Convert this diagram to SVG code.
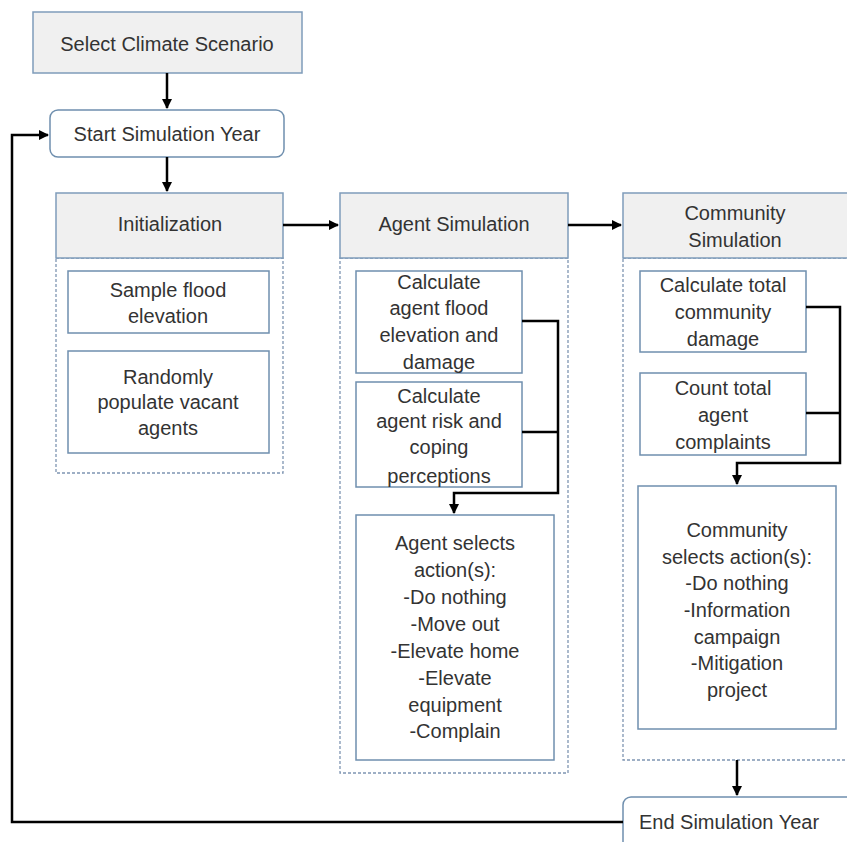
<svg xmlns="http://www.w3.org/2000/svg" width="847" height="842" viewBox="0 0 847 842">
<defs>
<marker id="ah" markerWidth="10" markerHeight="10" refX="9" refY="5" orient="auto" markerUnits="userSpaceOnUse">
<path d="M0,0 L10,5 L0,10 Z" fill="#000"/>
</marker>
</defs>
<style>
text{font-family:"Liberation Sans",Arial,sans-serif;font-size:20px;fill:#333;text-anchor:middle}
.hdr{fill:#f0f0f0;stroke:#7f9cba;stroke-width:1.5}
.box{fill:#fff;stroke:#6f8fae;stroke-width:1.5}
.cont{fill:none;stroke:#7f95b2;stroke-width:1.3;stroke-dasharray:3,2}
.c{fill:none;stroke:#000;stroke-width:2.5}
</style>
<rect width="847" height="842" fill="#fff"/>
<g id="select-climate"><rect class="hdr" x="33" y="12" width="269" height="61"/><text x="167" y="51">Select Climate Scenario</text></g>
<g id="start-year"><rect class="box" x="50" y="110" width="234" height="47" rx="8"/><text x="167" y="141">Start Simulation Year</text></g>
<g id="initialization">
<rect class="cont" x="56" y="258" width="227" height="215"/>
<rect class="hdr" x="56" y="193" width="227" height="65"/><text x="170" y="231">Initialization</text>
</g>
<g id="sample-flood"><rect class="box" x="68" y="271" width="201" height="62"/><text x="168" y="297">Sample flood</text><text x="168" y="323">elevation</text></g>
<g id="populate"><rect class="box" x="68" y="351" width="201" height="102"/><text x="168" y="384">Randomly</text><text x="168" y="409">populate vacant</text><text x="168" y="435">agents</text></g>
<g id="agent-sim">
<rect class="cont" x="340" y="258" width="228" height="515"/>
<rect class="hdr" x="340" y="193" width="228" height="65"/><text x="454" y="231">Agent Simulation</text>
</g>
<g id="agent-flood"><rect class="box" x="356" y="271" width="166" height="102"/><text x="439" y="289">Calculate</text><text x="439" y="315">agent flood</text><text x="439" y="342">elevation and</text><text x="439" y="369">damage</text></g>
<g id="agent-risk"><rect class="box" x="356" y="382" width="166" height="105"/><text x="439" y="403">Calculate</text><text x="439" y="428">agent risk and</text><text x="439" y="454">coping</text><text x="439" y="483">perceptions</text></g>
<g id="agent-action"><rect class="box" x="356" y="515" width="198" height="245"/>
<text x="455" y="550">Agent selects</text><text x="455" y="577">action(s):</text><text x="455" y="604">-Do nothing</text><text x="455" y="631">-Move out</text><text x="455" y="658">-Elevate home</text><text x="455" y="685">-Elevate</text><text x="455" y="712">equipment</text><text x="455" y="738">-Complain</text></g>
<g id="community-sim">
<rect class="cont" x="623" y="258" width="230" height="502"/>
<rect class="hdr" x="623" y="193" width="230" height="65"/><text x="735" y="220">Community</text><text x="735" y="247">Simulation</text>
</g>
<g id="comm-damage"><rect class="box" x="640" y="271" width="166" height="81"/><text x="723" y="292">Calculate total</text><text x="723" y="319">community</text><text x="723" y="346">damage</text></g>
<g id="comm-complaints"><rect class="box" x="640" y="373" width="166" height="82"/><text x="723" y="395">Count total</text><text x="723" y="422">agent</text><text x="723" y="449">complaints</text></g>
<g id="comm-action"><rect class="box" x="638" y="486" width="198" height="243"/>
<text x="737" y="537">Community</text><text x="737" y="564">selects action(s):</text><text x="737" y="590">-Do nothing</text><text x="737" y="617">-Information</text><text x="737" y="644">campaign</text><text x="737" y="670">-Mitigation</text><text x="737" y="697">project</text></g>
<g id="end-year"><rect class="box" x="623" y="797" width="240" height="60" rx="8"/><text x="729" y="829">End Simulation Year</text></g>
<g id="connectors">
<path class="c" d="M167,73 V108" marker-end="url(#ah)"/>
<path class="c" d="M167,157 V191" marker-end="url(#ah)"/>
<path class="c" d="M283,225 H338" marker-end="url(#ah)"/>
<path class="c" d="M568,225 H621" marker-end="url(#ah)"/>
<path class="c" d="M522,321 H558 V493 H454 V513" marker-end="url(#ah)"/>
<path class="c" d="M522,432 H558"/>
<path class="c" d="M806,307 H840 V463 H737 V484" marker-end="url(#ah)"/>
<path class="c" d="M806,413 H840"/>
<path class="c" d="M737,760 V795" marker-end="url(#ah)"/>
<path class="c" d="M623,822 H12 V135 H48" marker-end="url(#ah)"/>
</g>
</svg>
